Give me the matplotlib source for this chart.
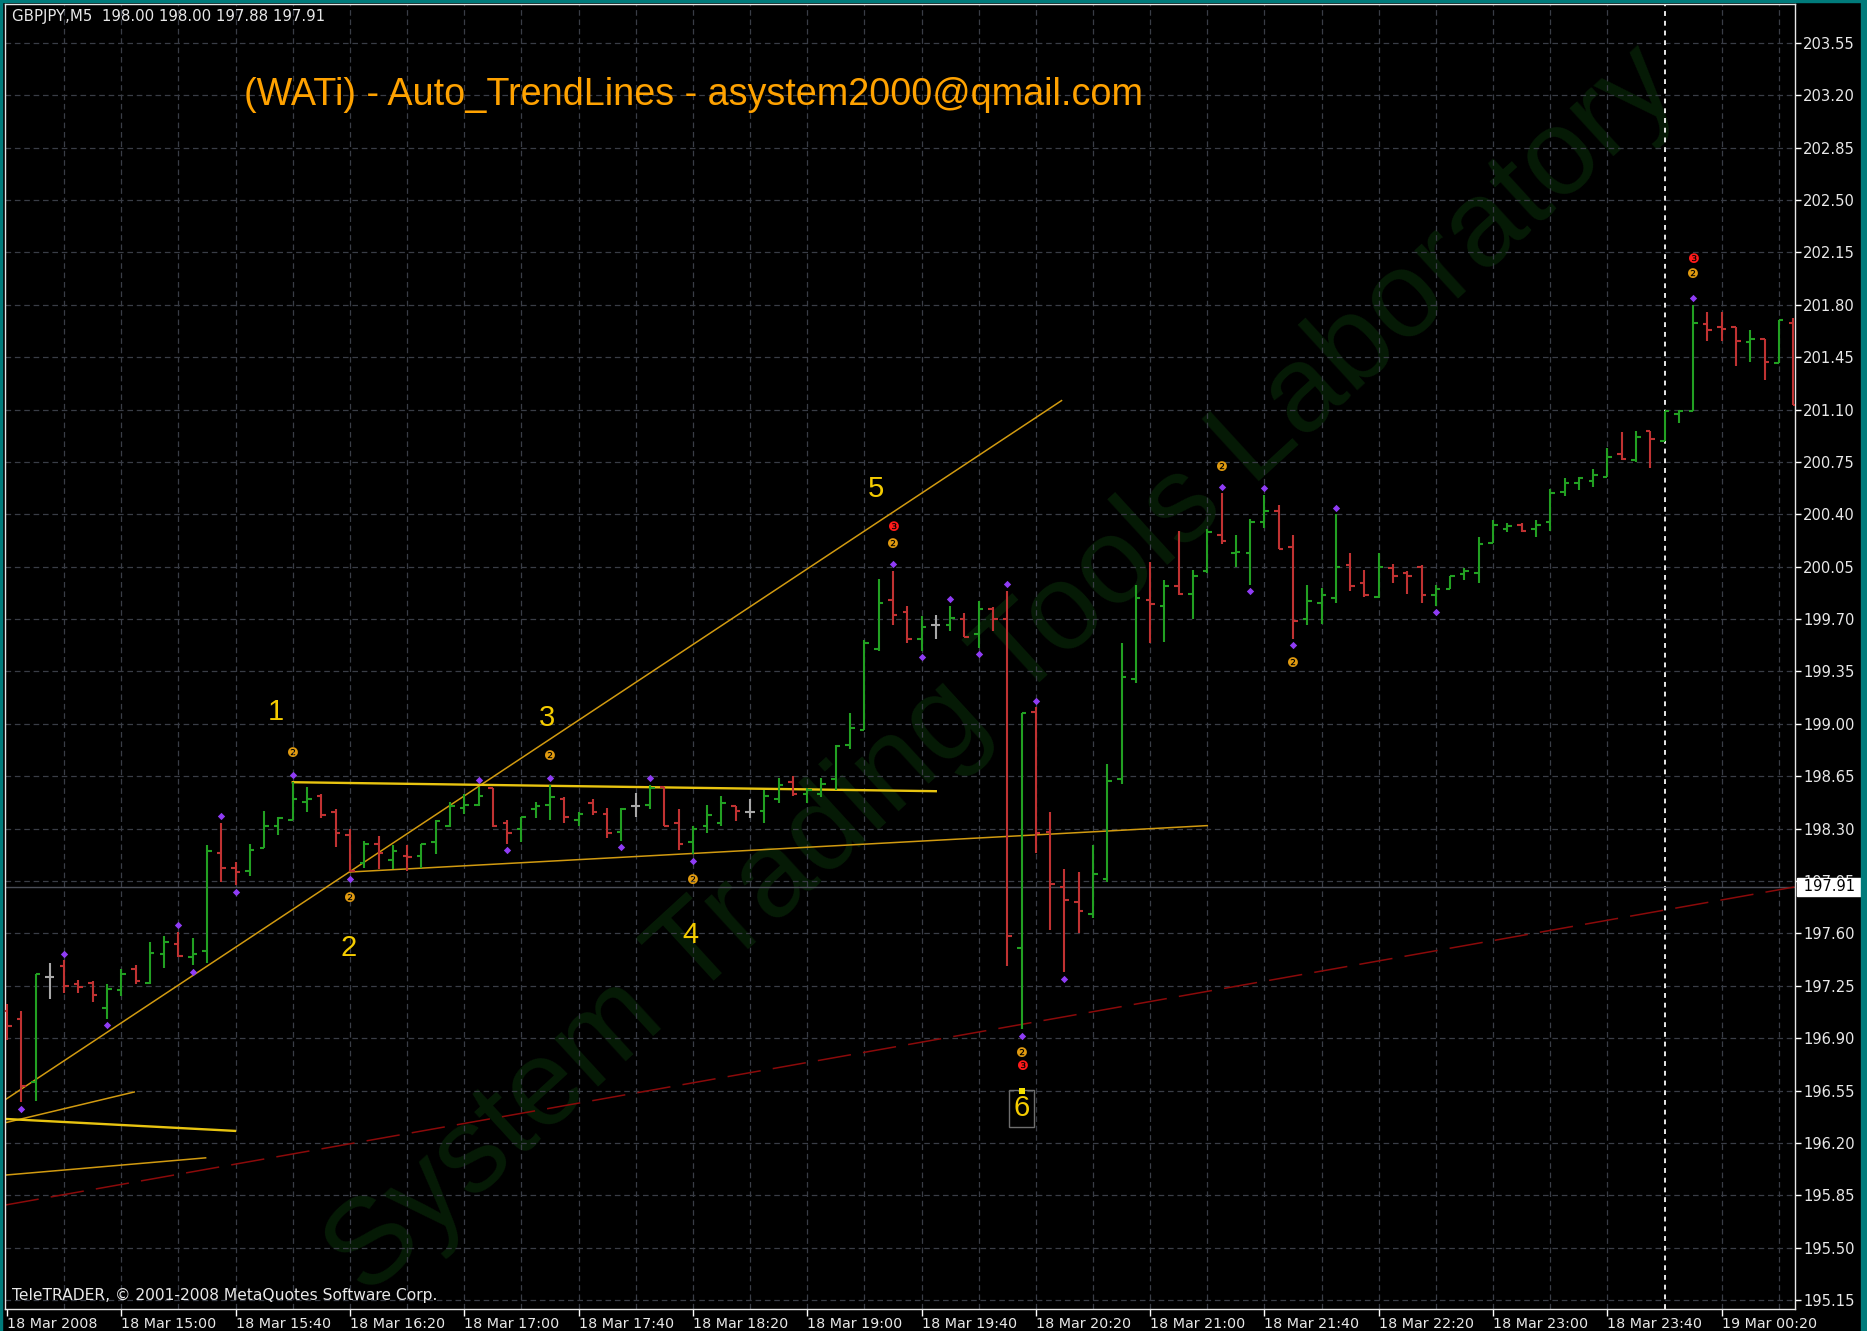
import numpy as np
import matplotlib
matplotlib.use('Agg')
import matplotlib.pyplot as plt
from matplotlib.patches import Rectangle
import matplotlib.transforms as mtrans

# GBPJPY M5, 18 Mar 2008 14:20 .. 19 Mar 00:45 (126 bars)
opens = [197.08, 197.03, 196.61, 197.31, 197.38, 197.26, 197.27, 197.10, 197.22, 197.36,
         197.27, 197.46, 197.53, 197.44, 197.48, 198.14, 198.04, 198.02, 198.17, 198.32,
         198.36, 198.48, 198.52, 198.41, 198.26, 198.07, 198.20, 198.09, 198.12, 198.12,
         198.21, 198.32, 198.44, 198.46, 198.57, 198.34, 198.30, 198.43, 198.46, 198.50,
         198.36, 198.47, 198.40, 198.28, 198.45, 198.46, 198.58, 198.34, 198.21, 198.32,
         198.34, 198.45, 198.41, 198.42, 198.50, 198.61, 198.53, 198.53, 198.63, 198.86,
         198.96, 199.50, 199.83, 199.75, 199.57, 199.66, 199.66, 199.70, 199.60, 199.77,
         199.70, 197.50, 199.08, 198.28, 197.91, 197.81, 197.73, 197.96, 198.63, 199.30,
         199.83, 199.79, 199.92, 199.87, 200.02, 200.26, 200.14, 200.14, 200.35, 200.42,
         200.18, 199.70, 199.81, 199.84, 200.06, 199.94, 199.85, 200.04, 200.01, 200.05,
         199.86, 199.90, 200.00, 200.01, 200.21, 200.30, 200.33, 200.30, 200.35, 200.55,
         200.61, 200.62, 200.65, 200.80, 200.76, 200.96, 200.89, 201.07, 201.09, 201.67,
         201.65, 201.65, 201.55, 201.57, 201.41, 201.68]
highs = [197.13, 197.08, 197.33, 197.40, 197.42, 197.29, 197.28, 197.26, 197.36, 197.39,
         197.54, 197.58, 197.61, 197.57, 198.19, 198.34, 198.08, 198.20, 198.42, 198.38,
         198.61, 198.58, 198.53, 198.43, 198.30, 198.22, 198.25, 198.19, 198.19, 198.20,
         198.36, 198.48, 198.53, 198.58, 198.57, 198.36, 198.38, 198.48, 198.59, 198.51,
         198.41, 198.50, 198.44, 198.44, 198.54, 198.59, 198.58, 198.43, 198.32, 198.46,
         198.52, 198.45, 198.50, 198.56, 198.64, 198.65, 198.57, 198.64, 198.86, 199.07,
         199.56, 199.97, 200.02, 199.79, 199.72, 199.73, 199.79, 199.74, 199.82, 199.78,
         199.89, 199.07, 199.11, 198.41, 198.03, 198.01, 198.19, 198.73, 199.54, 199.93,
         200.08, 199.96, 200.29, 200.03, 200.30, 200.54, 200.26, 200.37, 200.53, 200.46,
         200.26, 199.93, 199.91, 200.40, 200.14, 200.03, 200.14, 200.07, 200.02, 200.06,
         199.93, 199.99, 200.04, 200.25, 200.36, 200.34, 200.34, 200.36, 200.57, 200.64,
         200.65, 200.70, 200.84, 200.95, 200.96, 200.96, 201.09, 201.10, 201.80, 201.75,
         201.75, 201.65, 201.63, 201.57, 201.70, 201.71]
lows = [196.89, 196.47, 196.48, 197.16, 197.20, 197.20, 197.14, 197.03, 197.18, 197.26,
        197.26, 197.37, 197.44, 197.39, 197.40, 197.94, 197.92, 197.98, 198.17, 198.26,
        198.36, 198.41, 198.37, 198.18, 198.01, 198.04, 198.03, 198.03, 198.02, 198.04,
        198.13, 198.31, 198.40, 198.45, 198.31, 198.20, 198.21, 198.37, 198.36, 198.34,
        198.32, 198.39, 198.24, 198.22, 198.38, 198.43, 198.32, 198.16, 198.13, 198.27,
        198.32, 198.35, 198.37, 198.34, 198.47, 198.52, 198.47, 198.51, 198.56, 198.83,
        198.96, 199.49, 199.66, 199.54, 199.49, 199.57, 199.62, 199.58, 199.51, 199.62,
        197.38, 196.96, 198.14, 197.62, 197.34, 197.60, 197.70, 197.94, 198.60, 199.27,
        199.54, 199.55, 199.86, 199.70, 200.01, 200.20, 200.05, 199.93, 200.31, 200.17,
        199.57, 199.66, 199.67, 199.81, 199.89, 199.85, 199.84, 199.94, 199.87, 199.81,
        199.79, 199.90, 199.96, 199.94, 200.21, 200.28, 200.28, 200.25, 200.29, 200.52,
        200.56, 200.58, 200.65, 200.76, 200.75, 200.71, 200.89, 201.01, 201.09, 201.56,
        201.56, 201.39, 201.42, 201.30, 201.41, 201.13]
closes = [196.98, 196.58, 197.33, 197.31, 197.25, 197.24, 197.19, 197.23, 197.33, 197.28,
          197.47, 197.54, 197.45, 197.46, 198.15, 198.04, 198.01, 198.16, 198.32, 198.37,
          198.50, 198.50, 198.39, 198.27, 198.02, 198.20, 198.14, 198.15, 198.11, 198.20,
          198.35, 198.45, 198.46, 198.52, 198.32, 198.27, 198.38, 198.45, 198.51, 198.38,
          198.40, 198.41, 198.27, 198.43, 198.45, 198.57, 198.32, 198.20, 198.30, 198.39,
          198.47, 198.42, 198.41, 198.52, 198.59, 198.53, 198.56, 198.60, 198.85, 198.97,
          199.54, 199.81, 199.73, 199.57, 199.65, 199.66, 199.71, 199.58, 199.77, 199.70,
          197.58, 199.07, 198.27, 197.93, 197.82, 197.75, 198.00, 198.62, 199.31, 199.84,
          199.80, 199.92, 199.87, 199.99, 200.28, 200.22, 200.15, 200.35, 200.42, 200.17,
          199.69, 199.82, 199.86, 200.05, 199.92, 199.86, 200.05, 199.99, 199.99, 199.86,
          199.90, 199.99, 200.02, 200.20, 200.33, 200.32, 200.29, 200.33, 200.54, 200.61,
          200.64, 200.66, 200.78, 200.77, 200.92, 200.90, 201.09, 201.09, 201.68, 201.63,
          201.64, 201.56, 201.57, 201.42, 201.70, 201.13]

# fractal points (purple), bar indexes
frac_up = [4, 12, 15, 20, 33, 38, 45, 62, 66, 70, 72, 85, 88, 93, 118]
frac_dn = [1, 7, 13, 16, 24, 35, 43, 48, 64, 68, 71, 74, 87, 90, 100]

# pivot markers (bar, price)
mark2 = [(20, 198.80), (24, 197.83), (38, 198.78), (48, 197.95), (62, 200.20),
         (71, 196.80), (85, 200.71), (90, 199.40), (118, 202.00)]
mark3 = [(62, 200.31), (71, 196.71), (118, 202.10)]
wave_labels = ['1', '2', '3', '4', '5']
wave_pos = [(18.8, 199.08), (23.9, 197.50), (37.8, 199.04), (47.8, 197.59), (60.8, 200.57)]

# trend lines (bar, price) pairs
gold_lines = [((-0.1, 196.49), (73.8, 201.16)),
              ((24, 198.01), (84, 198.32)),
              ((-0.1, 196.335), (8.9, 196.54)),
              ((-0.1, 195.985), (13.9, 196.10))]
yellow_lines = [((20, 198.61), (65, 198.55)),
                ((-0.1, 196.36), (15.96, 196.28))]
support_line = ((-0.1, 195.785), (125.1, 197.91))

price_ticks = np.round(np.arange(195.15, 203.56, 0.35), 2)
time_pos = list(range(0, 121, 8))
time_labels = ['18 Mar 2008', '18 Mar 15:00', '18 Mar 15:40', '18 Mar 16:20', '18 Mar 17:00',
               '18 Mar 17:40', '18 Mar 18:20', '18 Mar 19:00', '18 Mar 19:40', '18 Mar 20:20',
               '18 Mar 21:00', '18 Mar 21:40', '18 Mar 22:20', '18 Mar 23:00', '18 Mar 23:40',
               '19 Mar 00:20']
bid = 197.91
day_sep = 116

W, H = 1867, 1331
fig = plt.figure(figsize=(W / 100, H / 100), dpi=100, facecolor='black')
ax = fig.add_axes([5 / W, 22 / H, 1790 / W, 1305 / H])
ax.set_facecolor('black')
ax.set_xlim(-0.14, 125.13)
ax.set_ylim(195.09, 203.81)

grid_c = '#393d46'
for p in price_ticks:
    ax.axhline(p, color=grid_c, lw=0.9, dashes=(4.5, 3), zorder=0.6)
for b in range(4, 125, 4):
    if b != day_sep:
        ax.axvline(b, color=grid_c, lw=0.9, dashes=(4.5, 3), zorder=0.6)
ax.axvline(day_sep, color='#e8e8e8', lw=1.4, dashes=(2.5, 2.5), zorder=0.7)

# watermark, inside the axes so it stays behind the bars
ax.text(1003 / W, 1 - 672 / H, 'System Trading Tools Laboratory', color='#061b06',
        fontsize=88, family='Liberation Sans', rotation=42.5, rotation_mode='anchor',
        ha='center', va='center', zorder=0.2, transform=fig.transFigure)

# bid line
ax.axhline(bid, color='#4a4d57', lw=1.0, zorder=0.8)

# trend lines
(x0, y0), (x1, y1) = support_line
ax.plot([x0, x1], [y0, y1], color='#8b0a0a', lw=1.1, dashes=(22, 8), zorder=1)
for (a, b) in gold_lines:
    ax.plot([a[0], b[0]], [a[1], b[1]], color='#d19a10', lw=1.1, zorder=1)
for (a, b) in yellow_lines:
    ax.plot([a[0], b[0]], [a[1], b[1]], color='#e8c410', lw=1.7, zorder=1)

# OHLC bars
x = np.arange(len(opens))
o, h, l, c = map(np.array, (opens, highs, lows, closes))
cols = np.where(c > o, '#22a022', np.where(c < o, '#c03232', '#a8a8a8'))
tick = 0.32
ax.vlines(x, l, h, colors=cols, lw=1.5, zorder=3)
ax.hlines(o, x - tick, x, colors=cols, lw=1.5, zorder=3)
ax.hlines(c, x, x + tick, colors=cols, lw=1.5, zorder=3)

# fractals
ax.scatter(frac_up, h[frac_up] + 0.045, marker='D', s=14, color='#8f3cf5', lw=0, zorder=4)
ax.scatter(frac_dn, l[frac_dn] - 0.045, marker='D', s=14, color='#8f3cf5', lw=0, zorder=4)

for b, p in mark2:
    ax.text(b, p, '\u2777', color='#e09a10', fontsize=9.5, family='DejaVu Sans',
            ha='center', va='center', zorder=5)
for b, p in mark3:
    ax.text(b, p, '\u2778', color='#ff1a1a', fontsize=9.5, family='DejaVu Sans',
            ha='center', va='center', zorder=5)

for t, (b, p) in zip(wave_labels, wave_pos):
    ax.text(b, p, t, color='#f5cc00', fontsize=21, family='Liberation Sans',
            ha='center', va='center', zorder=5)
ax.text(71, 196.43, '6', color='#f5cc00', fontsize=21, family='Liberation Sans',
        ha='center', va='center', zorder=5,
        bbox=dict(boxstyle='square,pad=0.14', fc='none', ec='#6e6e6e', lw=1))
ax.scatter([71], [196.545], marker='s', s=14, color='#f5e000', lw=0, zorder=5)

# axes styling
for s in ax.spines.values():
    s.set_color('#e8e8e8')
    s.set_linewidth(1.0)
ax.yaxis.tick_right()
ax.set_yticks(price_ticks)
ax.set_yticklabels(['%.2f' % p for p in price_ticks])
ax.set_xticks(time_pos)
ax.set_xticklabels(time_labels, ha='left')
ax.tick_params(axis='y', colors='white', labelcolor='#e8e8e8', length=4, width=1,
               pad=2, labelsize=10.6, direction='out')
ax.tick_params(axis='x', colors='white', labelcolor='#e8e8e8', length=5, width=1,
               pad=1, labelsize=10.3, direction='out')
for lab in ax.get_yticklabels() + ax.get_xticklabels():
    lab.set_family('DejaVu Sans')

# bid price box
tr = mtrans.blended_transform_factory(ax.transAxes, ax.transData)
ax.text(1.002, bid, ' 197.91 ', transform=tr, color='black', fontsize=10.6,
        family='DejaVu Sans', ha='left', va='center', clip_on=False, zorder=10,
        bbox=dict(boxstyle='square,pad=0.12', fc='white', ec='white'))

# captions
fig.text(12 / W, 1 - 17 / H, 'GBPJPY,M5  198.00 198.00 197.88 197.91', color='#e8e8e8',
         fontsize=10.8, family='DejaVu Sans', va='center')
fig.text(244 / W, 1 - 95 / H, '(WATi) - Auto_TrendLines - asystem2000@qmail.com',
         color='#ffa200', fontsize=27.2, family='Liberation Sans', va='center')
fig.text(12 / W, 1 - 1295 / H, 'TeleTRADER, \u00a9 2001-2008 MetaQuotes Software Corp.',
         color='#e8e8e8', fontsize=11.2, family='DejaVu Sans', va='center')

# window border
teal = '#007b7b'
for r in [(0, 0, 2, H), (0, H - 2, W, 2), (W - 6, 0, 6, H)]:
    fig.patches.append(Rectangle((r[0] / W, r[1] / H), r[2] / W, r[3] / H,
                                 transform=fig.transFigure, color=teal, zorder=20))

fig.savefig('out.png', dpi=100, facecolor='black')
